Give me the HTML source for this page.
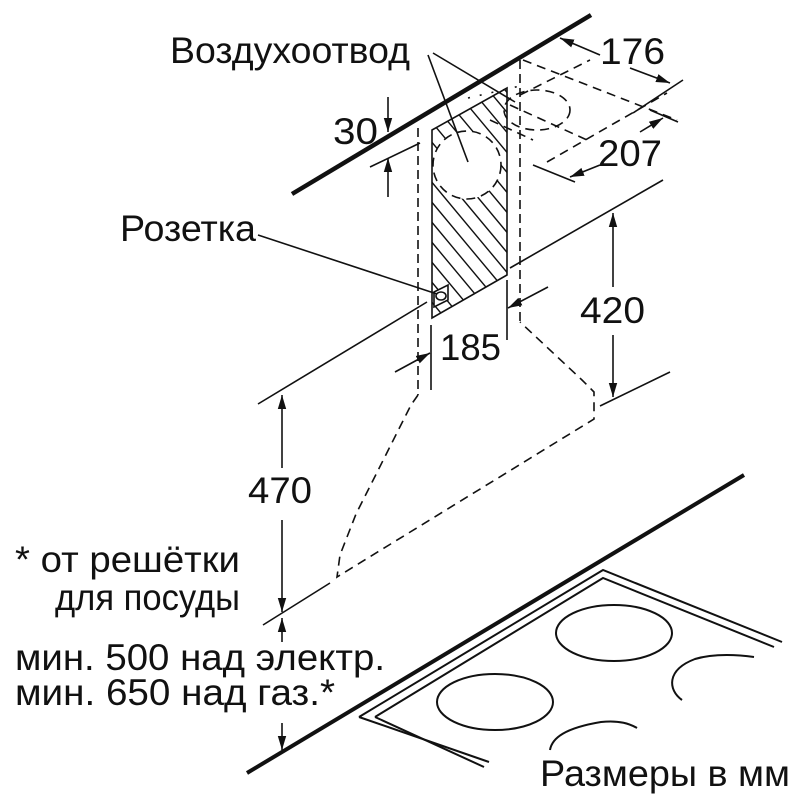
<!DOCTYPE html>
<html><head><meta charset="utf-8"><style>
html,body{margin:0;padding:0;background:#fff}
svg{display:block}
text{font-family:"Liberation Sans",sans-serif;fill:#111}
</style></head><body>
<svg width="800" height="800" viewBox="0 0 800 800" xmlns="http://www.w3.org/2000/svg">
<defs>
<marker id="b" viewBox="0 0 10 10" refX="10" refY="5" markerWidth="14" markerHeight="14" markerUnits="userSpaceOnUse" orient="auto-start-reverse">
<path d="M0,2 L10,5 L0,8 Z" fill="#111"/></marker>
<clipPath id="cp"><path d="M432,130 L507,88 L507,275 L432,318 Z"/></clipPath>
</defs>
<g stroke="#111" fill="none" stroke-width="1.6">
<line x1="292" y1="194" x2="591" y2="15" stroke-width="4.5"/>
<g clip-path="url(#cp)" stroke-width="1.4">
<line x1="380" y1="40" x2="620" y2="328"/><line x1="380" y1="60" x2="620" y2="348"/>
<line x1="380" y1="80" x2="620" y2="368"/><line x1="380" y1="100" x2="620" y2="388"/>
<line x1="380" y1="120" x2="620" y2="408"/><line x1="380" y1="140" x2="620" y2="428"/>
<line x1="380" y1="160" x2="620" y2="448"/><line x1="380" y1="180" x2="620" y2="468"/>
<line x1="380" y1="200" x2="620" y2="488"/><line x1="380" y1="220" x2="620" y2="508"/>
<line x1="380" y1="240" x2="620" y2="528"/><line x1="380" y1="20" x2="620" y2="308"/>
<line x1="380" y1="0" x2="620" y2="288"/><line x1="380" y1="-20" x2="620" y2="268"/>
<line x1="380" y1="-40" x2="620" y2="248"/><line x1="380" y1="-60" x2="620" y2="228"/>
<line x1="380" y1="-80" x2="620" y2="208"/><line x1="380" y1="-100" x2="620" y2="188"/>
<line x1="380" y1="-120" x2="620" y2="168"/><line x1="380" y1="260" x2="620" y2="548"/>
</g>
<circle cx="467" cy="165" r="34" fill="#fff" stroke="none"/>
<circle cx="467" cy="165" r="34" stroke-dasharray="9,6"/>
<path d="M432,130 L507,88 L507,275 L432,318 Z"/>
<path d="M434,292 L448,285 L448,300 L434,307 Z" fill="#fff"/>
<ellipse cx="441" cy="296" rx="5" ry="4"/>
<line x1="418" y1="128" x2="418" y2="395" stroke-dasharray="9,5"/>
<line x1="520" y1="60" x2="520" y2="322" stroke-dasharray="9,5"/>
<line x1="523" y1="60" x2="677" y2="120" stroke-dasharray="9,6"/>
<line x1="468" y1="98" x2="520" y2="86" stroke-dasharray="2,10"/>
<line x1="510" y1="105" x2="587" y2="140" stroke-dasharray="9,6"/>
<line x1="547" y1="162" x2="667" y2="93" stroke-dasharray="9,6"/>
<line x1="520" y1="95" x2="590" y2="60" stroke-dasharray="9,6"/>
<ellipse cx="537" cy="110" rx="33" ry="20" stroke-dasharray="9,6"/>
<line x1="490" y1="120" x2="533" y2="140" stroke-dasharray="9,6"/>
<line x1="258" y1="404" x2="427" y2="302"/>
<line x1="510" y1="268" x2="663" y2="180"/>
<line x1="600" y1="406" x2="670" y2="372"/>
<line x1="263" y1="625" x2="330" y2="583"/>
<path d="M418,395 L411,405 L356,514 L340,555 L337,577 L594,419 L594,392 L582,380 L520,322" stroke-dasharray="9,6"/>
<line x1="247" y1="773" x2="744" y2="475" stroke-width="4"/>
<path d="M359,717 L603,570 L782,642 M359,717 L489,762" stroke-width="2"/>
<path d="M375,717 L603,578 L774,647 M375,717 L484,767" stroke-width="2"/>
<ellipse cx="614" cy="633" rx="58" ry="28" stroke-width="2"/>
<ellipse cx="495" cy="702" rx="58" ry="28" stroke-width="2"/>
<path d="M682,700 C668,690 666,670 695,659 C715,653 740,655 754,657" stroke-width="2"/>
<path d="M550,750 C552,738 565,728 601,722 C620,720 630,724 637,728" stroke-width="2"/>
<line x1="428" y1="55" x2="468" y2="162"/>
<line x1="433" y1="53" x2="515" y2="102"/>
<line x1="258" y1="235" x2="437" y2="294"/>
<line x1="388" y1="97" x2="388" y2="132" marker-end="url(#b)"/>
<line x1="388" y1="197" x2="388" y2="158" marker-end="url(#b)"/>
<line x1="370" y1="167" x2="420" y2="143"/>
<line x1="600" y1="55" x2="560" y2="38" marker-end="url(#b)"/>
<line x1="630" y1="68" x2="670" y2="83" marker-end="url(#b)"/>
<line x1="683" y1="80" x2="633" y2="113"/>
<line x1="650" y1="110" x2="678" y2="122"/>
<line x1="640" y1="132" x2="663" y2="118" marker-end="url(#b)"/>
<line x1="600" y1="165" x2="570" y2="177" marker-end="url(#b)"/>
<line x1="533" y1="165" x2="575" y2="182"/>
<line x1="431" y1="325" x2="431" y2="390"/>
<line x1="507" y1="280" x2="507" y2="340"/>
<line x1="395" y1="372" x2="430" y2="353" marker-end="url(#b)"/>
<line x1="548" y1="287" x2="508" y2="308" marker-end="url(#b)"/>
<line x1="613" y1="287" x2="613" y2="213" marker-end="url(#b)"/>
<line x1="613" y1="335" x2="613" y2="397" marker-end="url(#b)"/>
<line x1="282" y1="468" x2="282" y2="395" marker-end="url(#b)"/>
<line x1="282" y1="520" x2="282" y2="612" marker-end="url(#b)"/>
<line x1="282" y1="642" x2="282" y2="618" marker-end="url(#b)"/>
<line x1="282" y1="723" x2="282" y2="750" marker-end="url(#b)"/>
</g>
<g font-size="37">
<text x="170" y="63" textLength="240" lengthAdjust="spacingAndGlyphs">Воздухоотвод</text>
<text x="600" y="64" textLength="65" lengthAdjust="spacingAndGlyphs">176</text>
<text x="598" y="166" textLength="64" lengthAdjust="spacingAndGlyphs">207</text>
<text x="333" y="144" textLength="45" lengthAdjust="spacingAndGlyphs">30</text>
<text x="120" y="241" textLength="136" lengthAdjust="spacingAndGlyphs">Розетка</text>
<text x="440" y="360" textLength="61" lengthAdjust="spacingAndGlyphs">185</text>
<text x="580" y="323" textLength="65" lengthAdjust="spacingAndGlyphs">420</text>
<text x="248" y="503" textLength="64" lengthAdjust="spacingAndGlyphs">470</text>
<text x="15" y="572" textLength="225" lengthAdjust="spacingAndGlyphs">* от решётки</text>
<text x="55" y="610" textLength="185" lengthAdjust="spacingAndGlyphs">для посуды</text>
<text x="15" y="670" textLength="370" lengthAdjust="spacingAndGlyphs">мин. 500 над электр.</text>
<text x="15" y="705" textLength="320" lengthAdjust="spacingAndGlyphs">мин. 650 над газ.*</text>
<text x="540" y="786" textLength="250" lengthAdjust="spacingAndGlyphs">Размеры в мм</text>
</g>
</svg>
</body></html>
